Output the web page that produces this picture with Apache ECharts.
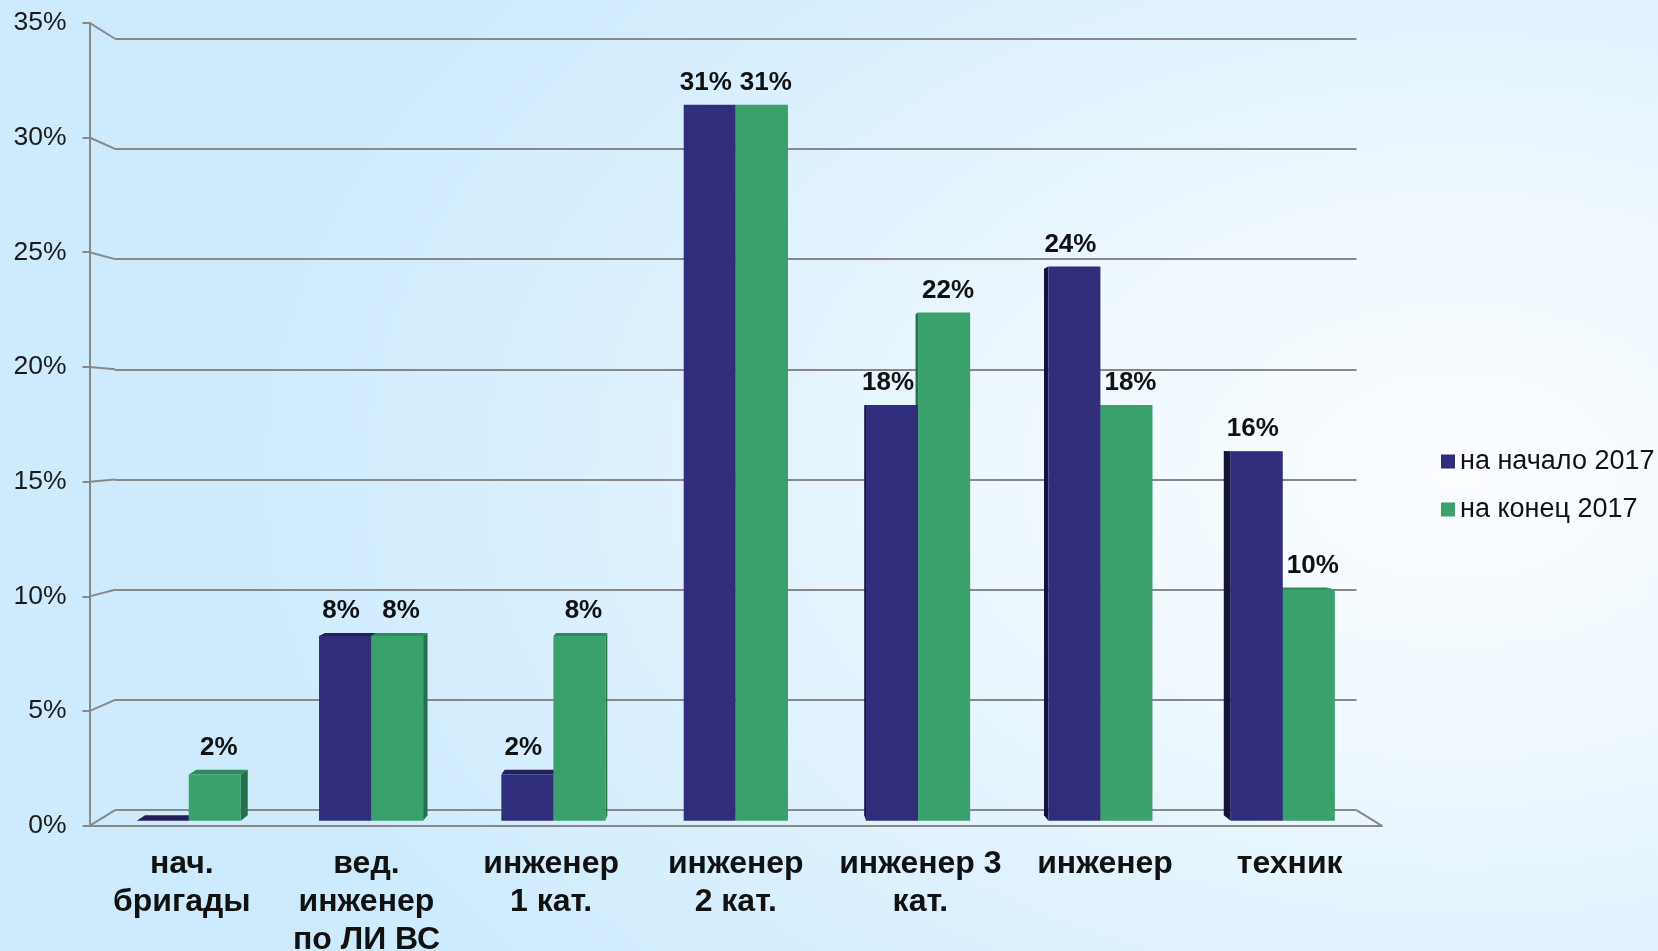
<!DOCTYPE html>
<html>
<head>
<meta charset="utf-8">
<title>Состав персонала 2017</title>
<script src="https://cdn.jsdelivr.net/npm/echarts@6/dist/echarts.min.js"></script>
<style>
  html, body { margin: 0; padding: 0; width: 1658px; height: 951px; overflow: hidden; }
  body {
    background: radial-gradient(ellipse 75% 85% at 88% 50%, #fbfdff 0%, #eef8fe 35%, #dbf0fd 70%, #cdebfd 100%);
  }
  #chart { width: 1658px; height: 951px; }
</style>
</head>
<body>
<div id="chart"></div>
<script>
// ---- data ----
const categories = [
  'нач.\nбригады',
  'вед.\nинженер\nпо ЛИ ВС',
  'инженер\n1 кат.',
  'инженер\n2 кат.',
  'инженер 3\nкат.',
  'инженер',
  'техник'
];
const seriesNames = ['на начало 2017', 'на конец 2017'];
const startValues = [0, 8, 2, 31, 18, 24, 16];   // на начало 2017, %
const endValues   = [2, 8, 8, 31, 22, 18, 10];   // на конец 2017, %
const yTicks = [0, 5, 10, 15, 20, 25, 30, 35];

// ---- pseudo-3D layout ----
const VP = [736, 427];                 // vanishing point of the 3D box
const FRONT = { x: 89.5, y: 22.8, w: 1292.5, h: 803 };   // front plane (axes)
const T_WALL = 0.0395;                 // depth of the back wall
const T_BAR = 0.0125;                  // depth of the bar front faces
const BAR_DEPTH = 0.014;               // depth of each bar box
const BAR_FRACTION = 0.2855;           // bar width as part of a category band
const GRID_COLOR = '#888888';
const FONT = '"Liberation Sans", Arial, sans-serif';

function persp(p, t) {
  return [p[0] + (VP[0] - p[0]) * t, p[1] + (VP[1] - p[1]) * t];
}
const wallTL = persp([FRONT.x, FRONT.y], T_WALL);
const wallBR = persp([FRONT.x + FRONT.w, FRONT.y + FRONT.h], T_WALL);
const barLeft = persp([FRONT.x, 0], T_BAR)[0];
const barRight = persp([FRONT.x + FRONT.w, 0], T_BAR)[0];
const barBottom = persp([0, FRONT.y + FRONT.h], T_BAR)[1];
const barPlaneHeight = 808.5;

const palettes = [
  { front: '#302d7b', side: '#13123a', top: '#231f5e' },
  { front: '#3aa06c', side: '#24704a', top: '#2d8a5a' }
];

// back wall grid edges: diagonal links from the front axis to the wall lines
function renderWallLinks(params, api) {
  const cs = params.coordSys;
  const v = api.value(1);
  const y = api.coord([0, v])[1];
  const f = [cs.x, y];
  const b = persp(f, T_WALL);
  const children = [{
    type: 'line',
    shape: { x1: f[0], y1: f[1], x2: b[0], y2: b[1] },
    style: { stroke: GRID_COLOR, lineWidth: 2 }
  }];
  if (v === 0) {
    const fr = [cs.x + cs.width, y];
    const br = persp(fr, T_WALL);
    children.push({
      type: 'line',
      shape: { x1: fr[0], y1: fr[1], x2: br[0], y2: br[1] },
      style: { stroke: GRID_COLOR, lineWidth: 2 }
    });
  }
  return { type: 'group', children: children };
}

function makeBarRenderer(si) {
  const pal = palettes[si];
  return function (params, api) {
    const cat = api.value(0);
    const val = api.value(1);
    const base = api.coord([cat, 0]);
    const top = api.coord([cat, val]);
    const bw = api.size([1, 0])[0] * BAR_FRACTION;
    const x0 = si === 0 ? base[0] - bw : base[0];
    const x1 = x0 + bw;
    const yT = top[1];
    const yB = base[1];
    const leftOfEye = base[0] < VP[0];
    const order = leftOfEye ? (si === 1 ? 2 : 1) : (si === 0 ? 2 : 1);
    const children = [];

    // visible side face
    const sx = leftOfEye ? x1 : x0;
    const a = [sx, yT], b = [sx, yB];
    children.push({
      type: 'polygon',
      z2: order * 10 + 1,
      shape: { points: [a, persp(a, BAR_DEPTH), persp(b, BAR_DEPTH), b] },
      style: { fill: pal.side }
    });

    // top face, seen from above when below the eye level
    let labelBase = yT;
    if (yT > VP[1]) {
      const p0 = [x0, yT], p1 = [x1, yT];
      const q0 = persp(p0, BAR_DEPTH), q1 = persp(p1, BAR_DEPTH);
      children.push({
        type: 'polygon',
        z2: order * 10 + 2,
        shape: { points: [p0, p1, q1, q0] },
        style: { fill: pal.top }
      });
      labelBase = Math.min(q0[1], q1[1]);
    }

    // front face
    if (yB - yT > 0.5) {
      children.push({
        type: 'rect',
        z2: order * 10 + 3,
        shape: { x: x0, y: yT, width: bw, height: yB - yT },
        style: { fill: pal.front }
      });
    }

    // value label
    if (val > 0) {
      children.push({
        type: 'text',
        z2: 100,
        style: {
          x: (x0 + x1) / 2 + (si === 0 ? -4 : 4),
          y: labelBase - 9,
          text: val + '%',
          align: 'center',
          verticalAlign: 'bottom',
          fill: '#111111',
          font: 'bold 26px ' + FONT
        }
      });
    }
    return { type: 'group', children: children };
  };
}

const chart = echarts.init(document.getElementById('chart'), null, { renderer: 'canvas' });

chart.setOption({
  animation: false,
  backgroundColor: 'transparent',
  textStyle: { fontFamily: FONT },
  legend: {
    orient: 'vertical',
    left: 1441,
    top: 448,
    padding: 0,
    icon: 'rect',
    itemWidth: 14,
    itemHeight: 14,
    itemGap: 21,
    data: seriesNames,
    textStyle: { fontSize: 27, color: '#111111', lineHeight: 27 }
  },
  grid: [
    { left: FRONT.x, top: FRONT.y, width: FRONT.w, height: FRONT.h, outerBoundsMode: 'none', containLabel: false },
    { left: wallTL[0], top: wallTL[1], width: wallBR[0] - wallTL[0], height: wallBR[1] - wallTL[1], outerBoundsMode: 'none', containLabel: false },
    { left: barLeft, top: barBottom - barPlaneHeight, width: barRight - barLeft, height: barPlaneHeight, outerBoundsMode: 'none', containLabel: false }
  ],
  xAxis: [
    {
      type: 'category', gridIndex: 0, data: categories,
      axisLine: { lineStyle: { color: GRID_COLOR, width: 2 } },
      axisTick: { length: 8, lineStyle: { color: GRID_COLOR, width: 2 } },
      axisLabel: {
        interval: 0, margin: 19, color: '#111111',
        fontSize: 32, fontWeight: 'bold', lineHeight: 38
      },
      splitLine: { show: false }
    },
    { type: 'category', gridIndex: 1, data: categories, show: false },
    { type: 'category', gridIndex: 2, data: categories, show: false }
  ],
  yAxis: [
    {
      type: 'value', gridIndex: 0, min: 0, max: 35, interval: 5,
      axisLine: { show: true, lineStyle: { color: GRID_COLOR, width: 2 } },
      axisTick: { show: true, length: 7, lineStyle: { color: GRID_COLOR, width: 2 } },
      axisLabel: { formatter: '{value}%', margin: 23, fontSize: 26.5, color: '#1a1a1a' },
      splitLine: { show: false }
    },
    {
      type: 'value', gridIndex: 1, min: 0, max: 35, interval: 5,
      axisLine: { show: false }, axisTick: { show: false }, axisLabel: { show: false },
      splitLine: { show: true, lineStyle: { color: GRID_COLOR, width: 2 } }
    },
    { type: 'value', gridIndex: 2, min: 0, max: 35, interval: 5, show: false }
  ],
  series: [
    {
      type: 'custom', name: 'wall', xAxisIndex: 0, yAxisIndex: 0, silent: true, z: 1,
      data: yTicks.map(function (v) { return [0, v]; }),
      encode: { x: 0, y: 1 },
      renderItem: renderWallLinks
    },
    {
      type: 'custom', name: seriesNames[0], xAxisIndex: 2, yAxisIndex: 2, z: 3,
      itemStyle: { color: palettes[0].front },
      data: startValues.map(function (v, i) { return [i, v]; }),
      encode: { x: 0, y: 1 },
      renderItem: makeBarRenderer(0)
    },
    {
      type: 'custom', name: seriesNames[1], xAxisIndex: 2, yAxisIndex: 2, z: 3,
      itemStyle: { color: palettes[1].front },
      data: endValues.map(function (v, i) { return [i, v]; }),
      encode: { x: 0, y: 1 },
      renderItem: makeBarRenderer(1)
    }
  ]
});
</script>
</body>
</html>
